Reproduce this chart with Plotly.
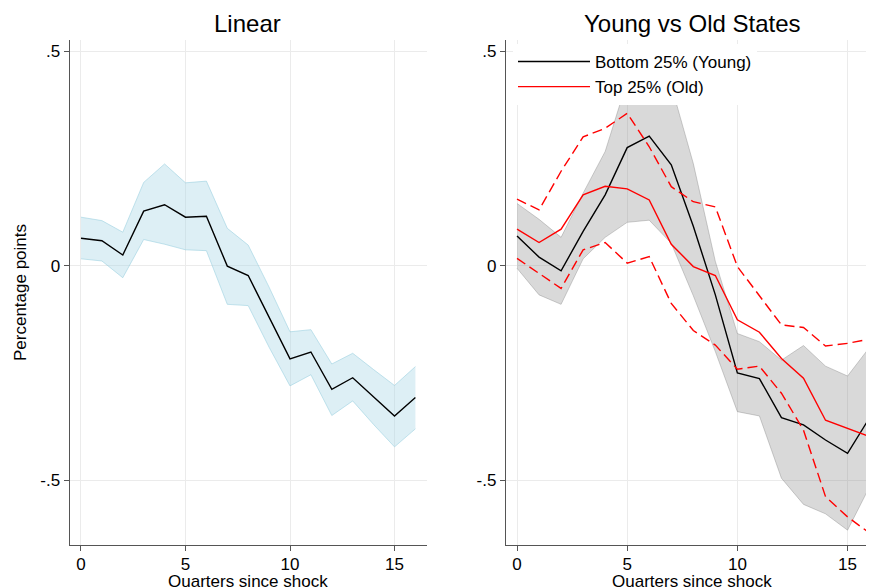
import plotly.graph_objects as go

quarters = list(range(17))

# Linear model: point estimate and confidence band
linear_est = [0.064, 0.058, 0.025, 0.127, 0.142, 0.113, 0.115, -0.001, -0.023,
              -0.120, -0.217, -0.201, -0.288, -0.261, -0.305, -0.350, -0.307]
linear_hi = [0.113, 0.105, 0.078, 0.194, 0.237, 0.193, 0.197, 0.087, 0.048,
             -0.050, -0.154, -0.149, -0.229, -0.204, -0.242, -0.279, -0.235]
linear_lo = [0.016, 0.011, -0.028, 0.061, 0.050, 0.037, 0.035, -0.090, -0.093,
             -0.190, -0.280, -0.254, -0.349, -0.315, -0.370, -0.422, -0.380]

# Young states (bottom 25%): estimate and band
young_est = [0.069, 0.020, -0.012, 0.080, 0.165, 0.275, 0.302, 0.235, 0.092,
             -0.068, -0.250, -0.263, -0.354, -0.371, -0.406, -0.437, -0.354]
young_hi = [0.145, 0.108, 0.066, 0.169, 0.266, 0.430, 0.450, 0.420, 0.238,
            0.010, -0.158, -0.177, -0.220, -0.186, -0.234, -0.257, -0.190]
young_lo = [-0.006, -0.068, -0.090, 0.016, 0.066, 0.101, 0.106, 0.052, -0.070,
            -0.200, -0.340, -0.350, -0.495, -0.556, -0.578, -0.616, -0.515]

# Old states (top 25%): estimate and band
old_est = [0.085, 0.054, 0.085, 0.165, 0.185, 0.179, 0.153, 0.050, -0.002,
           -0.023, -0.126, -0.155, -0.216, -0.262, -0.360, -0.379, -0.398]
old_hi = [0.155, 0.130, 0.220, 0.300, 0.320, 0.355, 0.277, 0.184, 0.149,
          0.137, -0.002, -0.070, -0.138, -0.144, -0.187, -0.181, -0.171]
old_lo = [0.017, -0.018, -0.053, 0.037, 0.054, 0.006, 0.021, -0.088, -0.151,
          -0.185, -0.241, -0.234, -0.297, -0.383, -0.538, -0.585, -0.623]

y_ticks = [-0.5, 0, 0.5]
y_ticktext = ["-.5", "0", ".5"]
x_ticks = [0, 5, 10, 15]

FONT = "Liberation Sans, Arial, sans-serif"
AXIS = "#555555"
GRID = "#ebebeb"

# the page adds an 8px body margin, so the figure is sized to the visible area
W, H = 866, 579


def px_x(p):
    return (p - 8) / W


def px_y(p):
    return 1 - (p - 8) / H


fig = go.Figure()

# left panel: linear
fig.add_trace(go.Scatter(x=quarters, y=linear_lo, mode="lines",
                         line=dict(color="rgba(150,205,222,0.55)", width=1),
                         showlegend=False, hoverinfo="skip"))
fig.add_trace(go.Scatter(x=quarters, y=linear_hi, mode="lines", fill="tonexty",
                         fillcolor="rgba(173,216,230,0.42)",
                         line=dict(color="rgba(150,205,222,0.55)", width=1),
                         showlegend=False, hoverinfo="skip"))
fig.add_trace(go.Scatter(x=quarters, y=linear_est, mode="lines",
                         line=dict(color="black", width=1.4), showlegend=False))

# right panel: young vs old
fig.add_trace(go.Scatter(x=quarters, y=young_lo, mode="lines", xaxis="x2", yaxis="y2",
                         line=dict(color="rgba(120,120,120,0.35)", width=1),
                         showlegend=False, hoverinfo="skip"))
fig.add_trace(go.Scatter(x=quarters, y=young_hi, mode="lines", xaxis="x2", yaxis="y2",
                         fill="tonexty", fillcolor="rgba(128,128,128,0.3)",
                         line=dict(color="rgba(120,120,120,0.35)", width=1),
                         showlegend=False, hoverinfo="skip"))
fig.add_trace(go.Scatter(x=quarters, y=young_est, mode="lines", xaxis="x2", yaxis="y2",
                         name="Bottom 25% (Young)", line=dict(color="black", width=1.4)))
fig.add_trace(go.Scatter(x=quarters, y=old_est, mode="lines", xaxis="x2", yaxis="y2",
                         name="Top 25% (Old)", line=dict(color="#ff0000", width=1.4)))
for band in (old_hi, old_lo):
    fig.add_trace(go.Scatter(x=quarters, y=band, mode="lines", xaxis="x2", yaxis="y2",
                             line=dict(color="#ff0000", width=1.4, dash="10px,5px"),
                             showlegend=False))

axis_common = dict(showline=True, linecolor=AXIS, linewidth=1.3, ticks="outside",
                   ticklen=5, tickcolor=AXIS, tickwidth=1.3, showgrid=True,
                   gridcolor=GRID, gridwidth=1, zeroline=False, automargin=False,
                   tickfont=dict(size=17, color="black"))


def label(text, x, y, size=17):
    return dict(text=text, x=px_x(x), y=px_y(y), xref="paper", yref="paper",
                xanchor="center", yanchor="middle", showarrow=False,
                font=dict(size=size))


fig.update_layout(
    width=W, height=H,
    margin=dict(l=0, r=0, t=0, b=0),
    paper_bgcolor="white", plot_bgcolor="white",
    font=dict(family=FONT, color="black"),
    xaxis=dict(domain=[px_x(69.7), px_x(426.7)], range=[-0.54, 16.54], tickvals=x_ticks,
               ticklabelstandoff=-2, anchor="y", **axis_common),
    yaxis=dict(domain=[px_y(545), px_y(40)], range=[-0.6506, 0.5257], tickvals=y_ticks,
               ticktext=y_ticktext,
               title=dict(text="Percentage points", font=dict(size=17), standoff=9),
               anchor="x", **axis_common),
    xaxis2=dict(domain=[px_x(506), 1.0], range=[-0.5, 16.2], tickvals=x_ticks,
                ticklabelstandoff=-2, anchor="y2", **axis_common),
    yaxis2=dict(domain=[px_y(545), px_y(40)], range=[-0.6506, 0.5257], tickvals=y_ticks,
                ticktext=y_ticktext, anchor="x2", **axis_common),
    legend=dict(x=px_x(513), y=px_y(44), xanchor="left", yanchor="top",
                bgcolor="white", borderwidth=0, font=dict(size=17),
                itemwidth=72, traceorder="normal", tracegroupgap=0),
    annotations=[
        label("Linear", 248, 24, size=24),
        label("Young vs Old States", 692, 24, size=24),
        label("Quarters since shock", 248, 581),
        label("Quarters since shock", 692, 581),
    ],
)

fig.write_html("out.html")
